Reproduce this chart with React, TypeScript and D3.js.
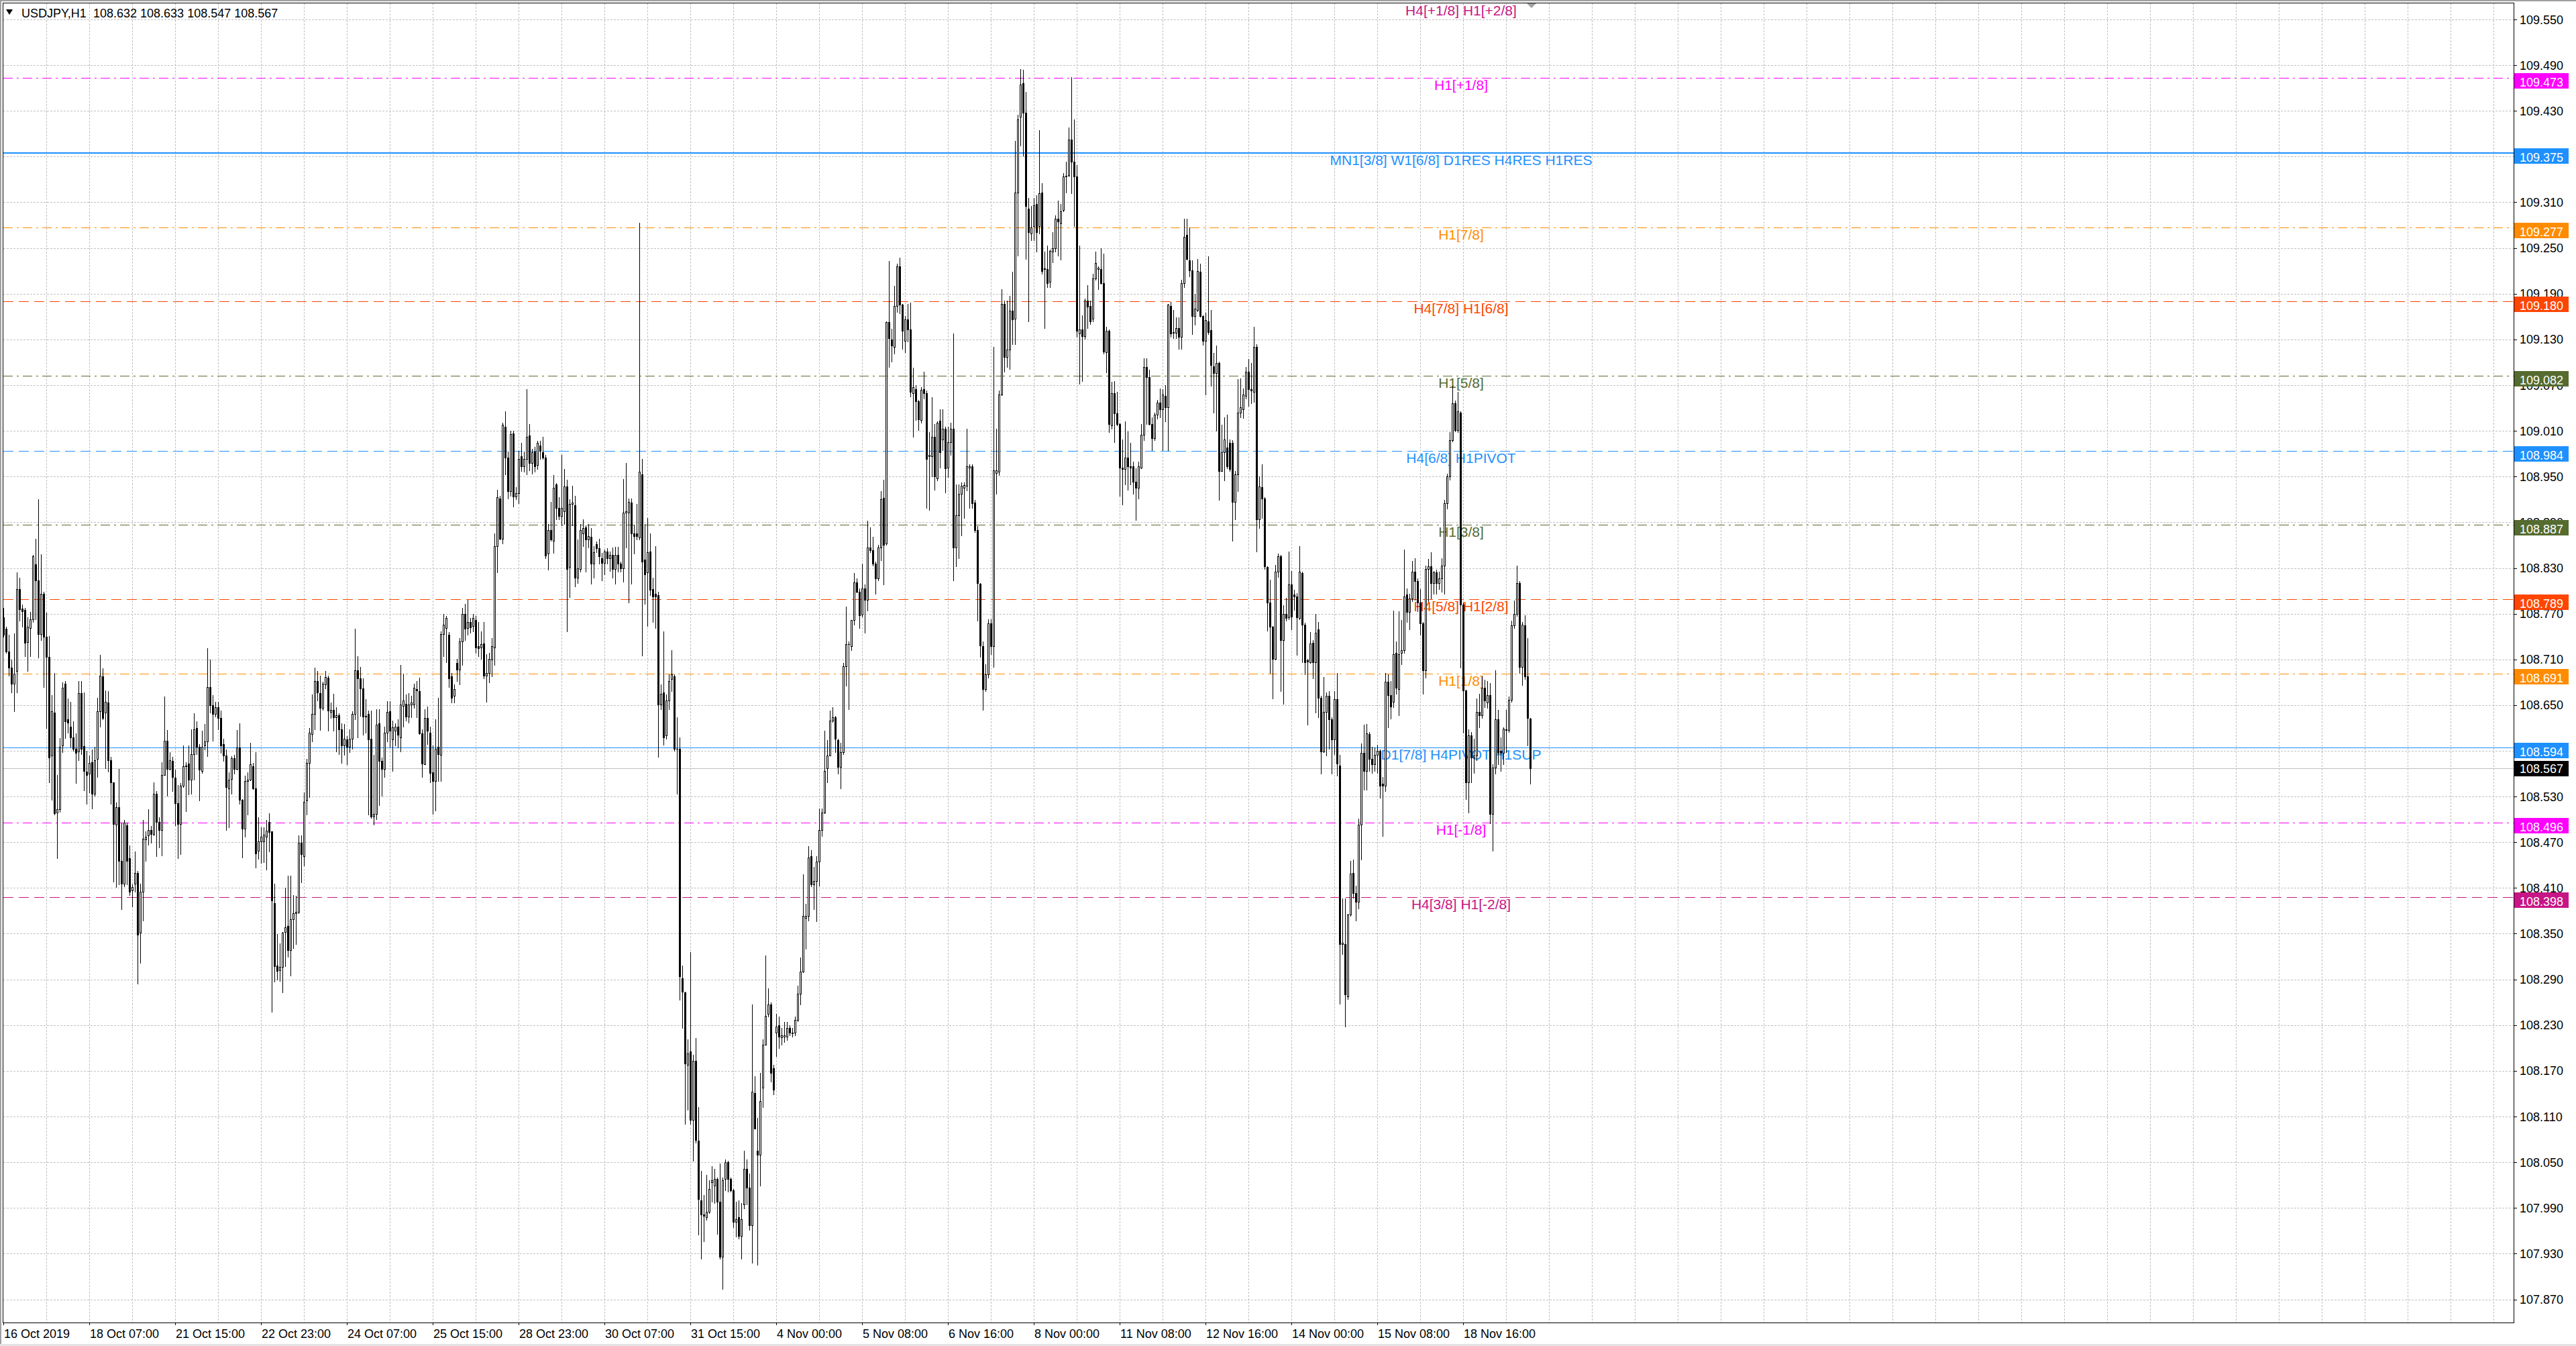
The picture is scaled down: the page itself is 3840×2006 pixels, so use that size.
import React from "react";
import * as d3 from "d3";

const W = 3840;
const H = 2006;
const PLOT = { left: 4, top: 4, right: 3747, bottom: 1971 };
const FONT = "'Liberation Sans', Arial, sans-serif";

const symbol = "USDJPY,H1";

// H1 bars: [open, high, low, close]
const candles: number[][] = [
  [108.765, 108.778, 108.740, 108.742], [108.750, 108.753, 108.719, 108.720], [108.720, 108.742, 108.689, 108.699],
  [108.699, 108.710, 108.667, 108.678], [108.678, 108.744, 108.642, 108.691], [108.695, 108.824, 108.667, 108.802],
  [108.802, 108.817, 108.761, 108.776], [108.777, 108.782, 108.753, 108.773], [108.775, 108.778, 108.714, 108.732],
  [108.733, 108.765, 108.695, 108.753], [108.751, 108.772, 108.714, 108.763], [108.763, 108.847, 108.759, 108.845],
  [108.835, 108.868, 108.763, 108.814], [108.814, 108.920, 108.712, 108.743], [108.743, 108.848, 108.735, 108.796],
  [108.796, 108.799, 108.674, 108.740], [108.740, 108.771, 108.620, 108.713], [108.713, 108.741, 108.549, 108.581],
  [108.584, 108.663, 108.526, 108.642], [108.640, 108.692, 108.506, 108.508], [108.509, 108.558, 108.449, 108.513],
  [108.513, 108.607, 108.510, 108.595], [108.597, 108.680, 108.588, 108.673], [108.678, 108.682, 108.607, 108.629],
  [108.631, 108.659, 108.614, 108.627], [108.622, 108.654, 108.595, 108.608], [108.608, 108.629, 108.590, 108.593],
  [108.593, 108.613, 108.548, 108.587], [108.589, 108.682, 108.578, 108.666], [108.666, 108.682, 108.586, 108.593],
  [108.596, 108.667, 108.538, 108.564], [108.563, 108.590, 108.520, 108.558], [108.560, 108.584, 108.535, 108.574],
  [108.575, 108.592, 108.514, 108.534], [108.534, 108.595, 108.531, 108.578], [108.579, 108.660, 108.556, 108.642],
  [108.642, 108.716, 108.622, 108.689], [108.688, 108.698, 108.631, 108.633], [108.640, 108.669, 108.567, 108.654],
  [108.653, 108.668, 108.563, 108.578], [108.578, 108.582, 108.520, 108.549], [108.549, 108.549, 108.418, 108.494],
  [108.493, 108.522, 108.411, 108.516], [108.516, 108.566, 108.415, 108.446], [108.446, 108.496, 108.382, 108.416],
  [108.416, 108.499, 108.412, 108.496], [108.492, 108.496, 108.415, 108.446], [108.449, 108.466, 108.401, 108.405],
  [108.407, 108.415, 108.386, 108.411], [108.416, 108.458, 108.405, 108.430], [108.430, 108.432, 108.284, 108.349],
  [108.351, 108.416, 108.312, 108.405], [108.405, 108.499, 108.367, 108.475], [108.474, 108.484, 108.446, 108.477],
  [108.479, 108.513, 108.467, 108.486], [108.486, 108.491, 108.469, 108.481], [108.481, 108.549, 108.479, 108.534],
  [108.534, 108.537, 108.452, 108.497], [108.497, 108.503, 108.463, 108.486], [108.486, 108.575, 108.453, 108.558],
  [108.558, 108.661, 108.558, 108.603], [108.603, 108.617, 108.531, 108.566], [108.566, 108.588, 108.565, 108.578],
  [108.577, 108.582, 108.537, 108.556], [108.555, 108.565, 108.492, 108.521], [108.521, 108.545, 108.449, 108.494],
  [108.494, 108.548, 108.454, 108.544], [108.544, 108.597, 108.542, 108.570], [108.570, 108.575, 108.511, 108.571],
  [108.573, 108.597, 108.533, 108.552], [108.552, 108.618, 108.534, 108.586], [108.586, 108.639, 108.552, 108.618],
  [108.620, 108.629, 108.586, 108.595], [108.595, 108.599, 108.525, 108.565], [108.564, 108.616, 108.561, 108.595],
  [108.597, 108.625, 108.592, 108.602], [108.602, 108.725, 108.583, 108.674], [108.674, 108.710, 108.640, 108.650],
  [108.650, 108.663, 108.603, 108.638], [108.638, 108.654, 108.635, 108.647], [108.647, 108.654, 108.618, 108.633],
  [108.633, 108.643, 108.587, 108.597], [108.599, 108.606, 108.577, 108.584], [108.584, 108.592, 108.486, 108.542],
  [108.541, 108.562, 108.490, 108.552], [108.553, 108.583, 108.534, 108.580], [108.580, 108.585, 108.560, 108.566],
  [108.566, 108.617, 108.565, 108.594], [108.594, 108.626, 108.520, 108.526], [108.526, 108.527, 108.450, 108.488],
  [108.488, 108.557, 108.477, 108.550], [108.550, 108.562, 108.506, 108.552], [108.552, 108.601, 108.551, 108.572],
  [108.570, 108.574, 108.540, 108.541], [108.541, 108.588, 108.437, 108.455], [108.459, 108.503, 108.448, 108.471],
  [108.471, 108.490, 108.443, 108.477], [108.471, 108.490, 108.444, 108.480], [108.477, 108.499, 108.434, 108.485],
  [108.497, 108.508, 108.458, 108.483], [108.484, 108.484, 108.247, 108.394], [108.390, 108.416, 108.287, 108.307],
  [108.308, 108.350, 108.290, 108.301], [108.302, 108.337, 108.288, 108.306], [108.306, 108.352, 108.273, 108.351],
  [108.352, 108.410, 108.307, 108.358], [108.360, 108.426, 108.320, 108.328], [108.328, 108.426, 108.295, 108.369],
  [108.369, 108.401, 108.331, 108.377], [108.377, 108.400, 108.336, 108.379], [108.379, 108.479, 108.377, 108.469],
  [108.469, 108.479, 108.417, 108.454], [108.452, 108.535, 108.439, 108.523], [108.525, 108.579, 108.506, 108.574],
  [108.574, 108.620, 108.529, 108.614], [108.612, 108.664, 108.602, 108.638], [108.638, 108.699, 108.618, 108.682],
  [108.682, 108.695, 108.656, 108.667], [108.666, 108.689, 108.617, 108.646], [108.646, 108.681, 108.644, 108.678],
  [108.677, 108.695, 108.672, 108.687], [108.686, 108.689, 108.616, 108.643], [108.641, 108.653, 108.633, 108.644],
  [108.644, 108.665, 108.616, 108.634], [108.634, 108.647, 108.589, 108.637], [108.637, 108.639, 108.586, 108.618],
  [108.618, 108.626, 108.574, 108.597], [108.597, 108.625, 108.585, 108.606], [108.605, 108.609, 108.572, 108.595],
  [108.595, 108.618, 108.588, 108.606], [108.606, 108.642, 108.593, 108.638], [108.638, 108.750, 108.631, 108.696],
  [108.696, 108.714, 108.608, 108.685], [108.685, 108.700, 108.636, 108.672], [108.672, 108.685, 108.611, 108.635],
  [108.636, 108.658, 108.614, 108.635], [108.638, 108.643, 108.506, 108.605], [108.606, 108.643, 108.502, 108.504],
  [108.504, 108.585, 108.493, 108.507], [108.507, 108.645, 108.500, 108.624], [108.626, 108.645, 108.519, 108.577],
  [108.577, 108.581, 108.531, 108.566], [108.566, 108.622, 108.556, 108.614], [108.614, 108.655, 108.602, 108.641],
  [108.642, 108.655, 108.595, 108.616], [108.605, 108.630, 108.564, 108.621], [108.616, 108.626, 108.597, 108.622],
  [108.622, 108.631, 108.594, 108.611], [108.608, 108.703, 108.589, 108.651], [108.649, 108.691, 108.622, 108.656],
  [108.652, 108.664, 108.630, 108.635], [108.635, 108.666, 108.627, 108.651], [108.651, 108.662, 108.634, 108.653],
  [108.651, 108.678, 108.646, 108.673], [108.671, 108.682, 108.634, 108.669], [108.668, 108.686, 108.612, 108.613],
  [108.613, 108.618, 108.556, 108.573], [108.572, 108.645, 108.572, 108.633], [108.633, 108.648, 108.599, 108.616],
  [108.614, 108.622, 108.549, 108.561], [108.562, 108.597, 108.507, 108.550], [108.550, 108.631, 108.512, 108.593],
  [108.595, 108.660, 108.550, 108.586], [108.585, 108.747, 108.550, 108.743], [108.743, 108.770, 108.714, 108.756],
  [108.751, 108.767, 108.706, 108.764], [108.742, 108.746, 108.674, 108.685], [108.688, 108.692, 108.653, 108.660],
  [108.662, 108.677, 108.653, 108.671], [108.705, 108.711, 108.682, 108.697], [108.697, 108.738, 108.677, 108.734],
  [108.734, 108.778, 108.703, 108.770], [108.770, 108.783, 108.735, 108.750], [108.751, 108.788, 108.742, 108.759],
  [108.759, 108.764, 108.745, 108.752], [108.754, 108.770, 108.747, 108.764], [108.762, 108.767, 108.719, 108.726],
  [108.727, 108.759, 108.714, 108.725], [108.726, 108.747, 108.711, 108.730], [108.731, 108.759, 108.685, 108.689],
  [108.689, 108.717, 108.654, 108.692], [108.692, 108.719, 108.680, 108.711], [108.710, 108.738, 108.688, 108.727],
  [108.726, 108.875, 108.703, 108.859], [108.859, 108.933, 108.824, 108.923], [108.921, 108.925, 108.867, 108.868],
  [108.868, 109.021, 108.862, 109.018], [109.015, 109.036, 108.953, 108.975], [108.975, 108.983, 108.921, 108.931],
  [108.931, 109.010, 108.925, 109.006], [109.007, 109.010, 108.911, 108.924], [108.924, 108.936, 108.920, 108.928],
  [108.928, 108.984, 108.915, 108.973], [108.977, 108.994, 108.957, 108.963], [108.963, 108.983, 108.956, 108.973],
  [108.973, 109.065, 108.953, 109.002], [109.004, 109.019, 108.958, 108.968], [108.968, 108.986, 108.954, 108.982],
  [108.983, 108.989, 108.956, 108.963], [108.965, 108.997, 108.960, 108.994], [108.991, 108.997, 108.973, 108.984],
  [108.982, 109.002, 108.973, 108.975], [108.975, 108.978, 108.843, 108.846], [108.849, 108.888, 108.828, 108.880],
  [108.880, 108.917, 108.866, 108.867], [108.866, 108.952, 108.850, 108.935], [108.940, 108.941, 108.894, 108.909],
  [108.909, 108.923, 108.894, 108.898], [108.898, 108.978, 108.886, 108.909], [108.904, 108.960, 108.888, 108.937],
  [108.937, 108.946, 108.747, 108.829], [108.831, 108.920, 108.792, 108.914], [108.914, 108.938, 108.886, 108.916],
  [108.912, 108.925, 108.806, 108.817], [108.817, 108.867, 108.810, 108.830], [108.829, 108.888, 108.825, 108.880],
  [108.875, 108.894, 108.859, 108.882], [108.883, 108.886, 108.825, 108.867], [108.867, 108.888, 108.857, 108.872],
  [108.871, 108.882, 108.809, 108.836], [108.836, 108.859, 108.817, 108.851], [108.861, 108.865, 108.851, 108.856],
  [108.856, 108.868, 108.836, 108.845], [108.843, 108.850, 108.814, 108.837], [108.837, 108.854, 108.822, 108.852],
  [108.852, 108.856, 108.836, 108.843], [108.843, 108.852, 108.826, 108.847], [108.847, 108.857, 108.817, 108.829],
  [108.829, 108.858, 108.809, 108.847], [108.847, 108.858, 108.825, 108.836], [108.836, 108.838, 108.825, 108.830],
  [108.830, 108.947, 108.812, 108.903], [108.903, 108.968, 108.857, 108.904], [108.903, 108.921, 108.785, 108.917],
  [108.916, 108.921, 108.809, 108.875], [108.875, 108.886, 108.849, 108.872], [108.875, 108.914, 108.867, 108.872],
  [108.870, 109.283, 108.867, 108.956], [108.953, 108.973, 108.715, 108.838], [108.841, 108.888, 108.783, 108.822],
  [108.824, 108.896, 108.754, 108.851], [108.852, 108.875, 108.794, 108.801], [108.802, 108.817, 108.759, 108.793],
  [108.796, 108.859, 108.751, 108.793], [108.794, 108.799, 108.582, 108.651], [108.651, 108.677, 108.645, 108.665],
  [108.667, 108.747, 108.598, 108.608], [108.610, 108.664, 108.606, 108.656], [108.656, 108.690, 108.645, 108.682],
  [108.684, 108.722, 108.668, 108.690], [108.688, 108.690, 108.590, 108.593], [108.593, 108.634, 108.534, 108.593],
  [108.593, 108.608, 108.263, 108.294], [108.291, 108.308, 108.226, 108.274], [108.273, 108.274, 108.100, 108.180],
  [108.178, 108.211, 108.119, 108.193], [108.195, 108.326, 108.100, 108.106], [108.106, 108.191, 108.052, 108.183],
  [108.183, 108.213, 108.076, 108.079], [108.078, 108.122, 107.955, 108.002], [108.000, 108.039, 107.923, 107.981],
  [107.981, 108.007, 107.946, 107.980], [107.978, 108.033, 107.974, 107.985], [107.985, 108.026, 107.983, 108.015],
  [108.024, 108.045, 107.998, 108.026], [108.019, 108.041, 107.996, 108.028], [108.028, 108.030, 107.956, 107.998],
  [107.998, 108.048, 107.923, 107.926], [107.926, 108.030, 107.884, 108.026], [108.028, 108.054, 108.013, 108.050],
  [108.050, 108.052, 108.011, 108.028], [108.028, 108.030, 108.011, 108.013], [108.013, 108.015, 107.965, 107.972],
  [107.972, 107.998, 107.952, 107.975], [107.978, 108.000, 107.950, 107.953], [107.953, 107.996, 107.923, 107.975],
  [107.995, 108.065, 107.989, 108.041], [108.041, 108.054, 107.995, 108.017], [108.017, 108.035, 107.961, 107.967],
  [107.967, 108.257, 107.918, 108.143], [108.141, 108.163, 108.094, 108.094], [108.065, 108.108, 107.915, 108.060],
  [108.060, 108.167, 108.019, 108.130], [108.148, 108.211, 108.122, 108.204], [108.204, 108.321, 108.204, 108.242],
  [108.245, 108.278, 108.241, 108.257], [108.257, 108.260, 108.156, 108.167], [108.173, 108.178, 108.139, 108.145],
  [108.220, 108.245, 108.189, 108.228], [108.230, 108.241, 108.200, 108.215], [108.214, 108.226, 108.204, 108.217],
  [108.215, 108.234, 108.208, 108.217], [108.215, 108.234, 108.210, 108.226], [108.226, 108.230, 108.217, 108.220],
  [108.219, 108.226, 108.215, 108.220], [108.220, 108.241, 108.217, 108.237], [108.237, 108.282, 108.235, 108.271],
  [108.271, 108.319, 108.257, 108.300], [108.300, 108.428, 108.299, 108.373], [108.371, 108.389, 108.330, 108.373],
  [108.373, 108.465, 108.367, 108.450], [108.452, 108.460, 108.412, 108.415], [108.415, 108.438, 108.382, 108.419],
  [108.419, 108.452, 108.366, 108.445], [108.445, 108.514, 108.413, 108.486], [108.486, 108.514, 108.478, 108.509],
  [108.509, 108.616, 108.508, 108.564], [108.567, 108.604, 108.549, 108.584], [108.584, 108.643, 108.584, 108.630],
  [108.630, 108.647, 108.628, 108.634], [108.634, 108.636, 108.588, 108.606], [108.604, 108.606, 108.560, 108.569],
  [108.569, 108.601, 108.541, 108.588], [108.588, 108.705, 108.586, 108.701], [108.701, 108.779, 108.675, 108.730],
  [108.730, 108.734, 108.645, 108.730], [108.727, 108.762, 108.722, 108.762], [108.762, 108.823, 108.756, 108.811],
  [108.811, 108.816, 108.798, 108.799], [108.799, 108.803, 108.751, 108.768], [108.769, 108.836, 108.766, 108.803],
  [108.803, 108.808, 108.745, 108.788], [108.788, 108.892, 108.774, 108.857], [108.857, 108.883, 108.851, 108.853],
  [108.853, 108.871, 108.833, 108.836], [108.836, 108.838, 108.796, 108.816], [108.816, 108.860, 108.814, 108.857],
  [108.857, 108.931, 108.840, 108.920], [108.922, 108.946, 108.808, 108.860], [108.862, 109.154, 108.860, 109.153],
  [109.153, 109.233, 109.094, 109.132], [109.130, 109.144, 109.101, 109.122], [109.120, 109.200, 109.111, 109.174],
  [109.174, 109.229, 109.166, 109.226], [109.226, 109.237, 109.164, 109.176], [109.176, 109.177, 109.118, 109.141],
  [109.128, 109.161, 109.113, 109.156], [109.156, 109.177, 109.127, 109.143], [109.143, 109.178, 109.055, 109.061],
  [109.059, 109.093, 109.002, 109.067], [109.065, 109.070, 109.024, 109.049], [109.049, 109.051, 109.011, 109.025],
  [109.024, 109.067, 109.021, 109.064], [109.065, 109.088, 109.052, 109.059], [109.059, 109.063, 108.909, 108.973],
  [108.977, 109.008, 108.906, 108.978], [108.977, 109.054, 108.950, 109.002], [109.002, 109.019, 108.933, 108.950],
  [108.948, 109.022, 108.945, 109.021], [109.023, 109.038, 108.962, 108.982], [108.999, 109.038, 108.985, 109.013],
  [109.013, 109.015, 108.929, 108.961], [108.962, 109.015, 108.949, 108.995], [108.995, 109.021, 108.978, 109.013],
  [109.013, 109.138, 108.814, 108.857], [108.857, 108.940, 108.832, 108.899], [108.899, 108.940, 108.843, 108.927],
  [108.927, 108.942, 108.873, 108.938], [108.935, 108.942, 108.896, 108.939], [108.938, 109.013, 108.932, 108.963],
  [108.962, 108.966, 108.909, 108.963], [108.963, 108.966, 108.909, 108.915], [108.916, 108.919, 108.877, 108.880],
  [108.880, 108.885, 108.761, 108.810], [108.809, 108.810, 108.713, 108.728], [108.727, 108.734, 108.644, 108.671],
  [108.671, 108.704, 108.668, 108.690], [108.690, 108.763, 108.686, 108.757], [108.757, 108.763, 108.717, 108.727],
  [108.727, 109.120, 108.700, 108.958], [108.955, 109.013, 108.927, 108.958], [108.956, 109.063, 108.952, 109.058],
  [109.058, 109.196, 109.057, 109.177], [109.177, 109.181, 109.088, 109.107], [109.107, 109.181, 109.094, 109.117],
  [109.117, 109.187, 109.091, 109.168], [109.168, 109.219, 109.124, 109.156], [109.157, 109.391, 109.124, 109.323],
  [109.323, 109.425, 109.240, 109.419], [109.422, 109.485, 109.384, 109.465], [109.466, 109.484, 109.371, 109.428],
  [109.428, 109.455, 109.236, 109.305], [109.302, 109.316, 109.154, 109.271], [109.269, 109.305, 109.260, 109.277],
  [109.279, 109.316, 109.260, 109.306], [109.308, 109.319, 109.245, 109.271], [109.279, 109.405, 109.269, 109.322],
  [109.323, 109.335, 109.216, 109.220], [109.223, 109.245, 109.145, 109.222], [109.222, 109.253, 109.199, 109.204],
  [109.206, 109.248, 109.199, 109.246], [109.245, 109.271, 109.231, 109.250], [109.250, 109.293, 109.245, 109.288],
  [109.288, 109.312, 109.240, 109.285], [109.282, 109.308, 109.235, 109.298], [109.300, 109.348, 109.298, 109.344],
  [109.344, 109.363, 109.323, 109.345], [109.346, 109.408, 109.344, 109.392], [109.392, 109.474, 109.322, 109.363],
  [109.363, 109.419, 109.279, 109.344], [109.344, 109.359, 109.133, 109.141], [109.138, 109.253, 109.072, 109.143],
  [109.143, 109.162, 109.075, 109.134], [109.134, 109.184, 109.131, 109.181], [109.181, 109.201, 109.145, 109.173],
  [109.174, 109.181, 109.150, 109.154], [109.157, 109.216, 109.154, 109.210], [109.210, 109.245, 109.208, 109.230],
  [109.222, 109.226, 109.196, 109.224], [109.222, 109.250, 109.203, 109.204], [109.204, 109.243, 109.111, 109.114],
  [109.113, 109.147, 109.087, 109.141], [109.141, 109.143, 109.008, 109.019], [109.017, 109.074, 109.013, 109.059],
  [109.059, 109.075, 108.995, 109.033], [109.033, 109.061, 109.017, 109.019], [109.019, 109.021, 108.925, 108.962],
  [108.962, 108.999, 108.913, 108.960], [108.960, 109.022, 108.940, 108.975], [108.975, 109.009, 108.933, 108.963],
  [108.963, 108.994, 108.940, 108.962], [108.963, 108.970, 108.927, 108.943], [108.943, 108.961, 108.893, 108.935],
  [108.935, 108.970, 108.921, 108.963], [108.962, 109.019, 108.961, 109.005], [109.005, 109.105, 108.998, 109.094],
  [109.094, 109.105, 109.019, 109.081], [109.081, 109.090, 109.018, 109.019], [109.019, 109.028, 108.985, 109.000],
  [109.000, 109.034, 108.998, 109.031], [109.031, 109.051, 109.026, 109.047], [109.047, 109.066, 109.028, 109.038],
  [109.038, 109.065, 108.985, 109.058], [109.056, 109.070, 109.022, 109.041], [109.041, 109.177, 108.985, 109.176],
  [109.174, 109.179, 109.133, 109.138], [109.140, 109.169, 109.132, 109.139], [109.139, 109.159, 109.132, 109.145],
  [109.145, 109.159, 109.118, 109.133], [109.133, 109.208, 109.118, 109.204], [109.204, 109.288, 109.199, 109.265],
  [109.267, 109.288, 109.235, 109.236], [109.234, 109.277, 109.213, 109.221], [109.221, 109.234, 109.137, 109.161],
  [109.161, 109.190, 109.149, 109.170], [109.169, 109.236, 109.167, 109.220], [109.219, 109.229, 109.160, 109.161],
  [109.161, 109.162, 109.123, 109.128], [109.128, 109.165, 109.058, 109.155], [109.154, 109.239, 109.137, 109.140],
  [109.142, 109.169, 109.069, 109.096], [109.095, 109.112, 109.034, 109.086], [109.086, 109.122, 109.010, 109.099],
  [109.099, 109.101, 108.919, 108.957], [108.957, 109.018, 108.957, 108.982], [108.982, 109.028, 108.945, 108.999],
  [108.988, 109.031, 108.961, 108.963], [108.994, 108.999, 108.957, 108.960], [108.994, 108.998, 108.866, 108.917],
  [108.917, 108.957, 108.894, 108.953], [108.953, 109.078, 108.931, 109.034], [109.034, 109.079, 109.028, 109.041],
  [109.038, 109.066, 109.027, 109.058], [109.056, 109.094, 109.052, 109.088], [109.088, 109.104, 109.043, 109.065],
  [109.065, 109.099, 109.046, 109.063], [109.061, 109.147, 109.048, 109.120], [109.120, 109.124, 108.852, 108.894],
  [108.894, 108.950, 108.882, 108.937], [108.936, 108.966, 108.896, 108.921], [108.921, 108.923, 108.829, 108.832],
  [108.831, 108.832, 108.748, 108.785], [108.785, 108.815, 108.692, 108.753], [108.753, 108.754, 108.659, 108.711],
  [108.711, 108.834, 108.710, 108.825], [108.825, 108.849, 108.818, 108.845], [108.845, 108.847, 108.668, 108.735],
  [108.735, 108.781, 108.652, 108.770], [108.770, 108.791, 108.761, 108.764], [108.765, 108.852, 108.763, 108.808],
  [108.808, 108.826, 108.749, 108.766], [108.795, 108.801, 108.775, 108.793], [108.793, 108.797, 108.716, 108.765],
  [108.764, 108.859, 108.763, 108.825], [108.823, 108.825, 108.706, 108.756], [108.756, 108.758, 108.690, 108.706],
  [108.709, 108.711, 108.624, 108.707], [108.706, 108.746, 108.705, 108.731], [108.732, 108.735, 108.685, 108.706],
  [108.706, 108.770, 108.640, 108.745], [108.749, 108.759, 108.634, 108.660], [108.660, 108.662, 108.560, 108.589],
  [108.589, 108.687, 108.588, 108.641], [108.641, 108.667, 108.584, 108.662], [108.662, 108.668, 108.593, 108.631],
  [108.631, 108.634, 108.560, 108.605], [108.605, 108.668, 108.586, 108.658], [108.658, 108.692, 108.557, 108.573],
  [108.571, 108.585, 108.258, 108.336], [108.336, 108.396, 108.323, 108.338], [108.336, 108.396, 108.228, 108.270],
  [108.268, 108.376, 108.264, 108.375], [108.375, 108.446, 108.373, 108.429], [108.430, 108.447, 108.397, 108.403],
  [108.403, 108.413, 108.367, 108.392], [108.392, 108.501, 108.383, 108.493], [108.493, 108.600, 108.447, 108.587],
  [108.587, 108.624, 108.539, 108.564], [108.564, 108.625, 108.539, 108.613], [108.612, 108.615, 108.564, 108.579],
  [108.579, 108.595, 108.561, 108.572], [108.572, 108.594, 108.564, 108.585], [108.585, 108.598, 108.561, 108.590],
  [108.590, 108.592, 108.528, 108.544], [108.547, 108.556, 108.478, 108.544], [108.544, 108.692, 108.537, 108.681],
  [108.681, 108.690, 108.621, 108.663], [108.663, 108.682, 108.632, 108.648], [108.654, 108.774, 108.647, 108.717],
  [108.719, 108.734, 108.665, 108.673], [108.671, 108.773, 108.637, 108.717], [108.719, 108.762, 108.704, 108.722],
  [108.722, 108.854, 108.719, 108.793], [108.795, 108.803, 108.759, 108.772], [108.772, 108.796, 108.749, 108.790],
  [108.790, 108.839, 108.786, 108.825], [108.825, 108.843, 108.788, 108.813], [108.813, 108.816, 108.773, 108.785],
  [108.785, 108.802, 108.742, 108.757], [108.757, 108.759, 108.665, 108.696], [108.696, 108.833, 108.686, 108.829],
  [108.829, 108.842, 108.786, 108.832], [108.832, 108.851, 108.790, 108.810], [108.810, 108.826, 108.796, 108.824],
  [108.824, 108.828, 108.796, 108.810], [108.810, 108.825, 108.802, 108.816], [108.816, 108.843, 108.799, 108.833],
  [108.833, 108.919, 108.796, 108.915], [108.915, 108.954, 108.908, 108.950], [108.950, 109.008, 108.946, 108.998],
  [108.998, 109.069, 108.996, 109.046], [109.046, 109.050, 109.009, 109.011], [109.011, 109.061, 109.008, 109.036],
  [109.034, 109.036, 108.699, 108.782], [108.782, 108.785, 108.614, 108.669], [108.669, 108.670, 108.527, 108.549],
  [108.549, 108.618, 108.509, 108.610], [108.610, 108.615, 108.549, 108.581], [108.581, 108.606, 108.561, 108.584],
  [108.584, 108.659, 108.578, 108.641], [108.641, 108.665, 108.621, 108.637], [108.637, 108.688, 108.633, 108.673],
  [108.673, 108.683, 108.647, 108.656], [108.653, 108.682, 108.646, 108.663], [108.663, 108.679, 108.495, 108.507],
  [108.507, 108.572, 108.459, 108.568], [108.568, 108.696, 108.560, 108.631], [108.631, 108.644, 108.572, 108.587],
  [108.590, 108.608, 108.564, 108.587], [108.587, 108.621, 108.572, 108.619], [108.618, 108.644, 108.588, 108.617],
  [108.617, 108.661, 108.615, 108.657], [108.657, 108.761, 108.654, 108.755], [108.755, 108.787, 108.751, 108.770],
  [108.770, 108.833, 108.767, 108.810], [108.810, 108.813, 108.692, 108.700], [108.700, 108.759, 108.676, 108.756],
  [108.755, 108.768, 108.684, 108.688], [108.688, 108.738, 108.597, 108.633], [108.632, 108.633, 108.547, 108.567],
];

// one label every 32 bars
const timeLabels = [
  "16 Oct 2019", "18 Oct 07:00", "21 Oct 15:00", "22 Oct 23:00", "24 Oct 07:00", "25 Oct 15:00",
  "28 Oct 23:00", "30 Oct 07:00", "31 Oct 15:00", "4 Nov 00:00", "5 Nov 08:00", "6 Nov 16:00",
  "8 Nov 00:00", "11 Nov 08:00", "12 Nov 16:00", "14 Nov 00:00", "15 Nov 08:00", "18 Nov 16:00",
];
const LABEL_STEP = 32;
const GRID_STEP = 16;
const GRID_COUNT = 58;

const PRICE_MIN = 107.87;
const PRICE_MAX = 109.55;
const PRICE_STEP = 0.06;

// Murrey levels drawn by the indicator
const levelPrices = [109.571, 109.473, 109.375, 109.277, 109.18, 109.082, 108.984, 108.887, 108.789, 108.691, 108.594, 108.496, 108.398];
const levelNames = [
  "H4[+1/8] H1[+2/8]", "H1[+1/8]", "MN1[3/8] W1[6/8] D1RES H4RES H1RES", "H1[7/8]", "H4[7/8] H1[6/8]",
  "H1[5/8]", "H4[6/8] H1PIVOT", "H1[3/8]", "H4[5/8] H1[2/8]", "H1[1/8]", "D1[7/8] H4PIVOT H1SUP",
  "H1[-1/8]", "H4[3/8] H1[-2/8]",
];
const levelKinds = ["top", "m1", "res", "o", "r", "g", "pv", "g", "r", "o", "sup", "m1", "m2"];

const KIND: Record<string, { color: string; dash?: string; width: number; line: boolean }> = {
  top: { color: "#c71585", width: 1, line: false },
  m1: { color: "#ff00ff", dash: "14,6,3,6", width: 1, line: true },
  m2: { color: "#c71585", dash: "15,8", width: 1, line: true },
  res: { color: "#1e90ff", width: 2, line: true },
  sup: { color: "#1e90ff", width: 1, line: true },
  pv: { color: "#1e90ff", dash: "15,8", width: 1, line: true },
  o: { color: "#ff8c00", dash: "14,6,3,6", width: 1, line: true },
  r: { color: "#ff4500", dash: "15,8", width: 1, line: true },
  g: { color: "#556b2f", dash: "14,6,3,6", width: 1, line: true },
};

const GRID = "#c0c0c0";
const LABEL_CX = 2178;
const AXIS_TEXT_X = 3756;

export default function App() {
  const x = d3.scaleLinear().domain([0, 1]).range([5, 9]);
  const y = d3.scaleLinear().domain([PRICE_MIN, PRICE_MAX]).range([1936.5, 29]);
  const priceTicks = d3.range(0, Math.round((PRICE_MAX - PRICE_MIN) / PRICE_STEP) + 1).map((k) => PRICE_MIN + k * PRICE_STEP);
  const gridBars = d3.range(1, GRID_COUNT + 1).map((k) => k * GRID_STEP);
  const last = candles[candles.length - 1];
  const bid = last[3];
  const yb = Math.round(y(bid));

  return (
    <>
      <style>{"body{margin:0}"}</style>
      <svg width={W} height={H} style={{ display: "block", background: "#fff" }} fontFamily={FONT}>
        <rect x={0} y={0} width={W} height={H} fill="#fff" />
        <rect x={0} y={0} width={W} height={2} fill="#a0a0a0" />
        <rect x={0} y={0} width={2} height={H} fill="#a0a0a0" />
        <rect x={0} y={H - 3} width={W} height={3} fill="#e3e3e3" />

        <g shapeRendering="crispEdges">
          {gridBars.map((b) => (
            <line key={"v" + b} x1={Math.round(x(b)) + 0.5} x2={Math.round(x(b)) + 0.5} y1={PLOT.top + 1} y2={PLOT.bottom}
              stroke={GRID} strokeDasharray="3,2" />
          ))}
          {priceTicks.map((p) => (
            <line key={"h" + p} x1={PLOT.left + 1} x2={PLOT.right} y1={Math.round(y(p)) + 0.5} y2={Math.round(y(p)) + 0.5}
              stroke={GRID} strokeDasharray="3,2" />
          ))}

          {levelPrices.map((p, i) => {
            const k = KIND[levelKinds[i]];
            if (!k.line) return null;
            const ly = Math.round(y(p)) + (k.width === 2 ? 0 : 0.5);
            return (
              <line key={"l" + i} x1={PLOT.left + 1} x2={PLOT.right} y1={ly} y2={ly} stroke={k.color}
                strokeWidth={k.width} strokeDasharray={k.dash} />
            );
          })}
          <line x1={PLOT.left + 1} x2={PLOT.right} y1={yb + 0.5} y2={yb + 0.5} stroke="#c0c0c0" />
        </g>

        {levelPrices.map((p, i) => (
          <text key={"t" + i} x={LABEL_CX} y={y(p) + 18} fontSize={21} textAnchor="middle" fill={KIND[levelKinds[i]].color}>
            {levelNames[i]}
          </text>
        ))}

        <g shapeRendering="crispEdges">
          {candles.map(([o, h, l, c], i) => {
            const cx = Math.round(x(i));
            const hy = Math.round(y(h));
            const ly = Math.round(y(l));
            const top = Math.round(y(Math.max(o, c)));
            const bh = Math.round(y(Math.min(o, c))) - top + 1;
            return (
              <g key={i}>
                <rect x={cx} y={hy} width={1} height={ly - hy + 1} fill="#000" />
                <rect x={cx - 1} y={top} width={3} height={bh} fill="#000" />
                {c > o && bh > 2 && <rect x={cx} y={top + 1} width={1} height={bh - 2} fill="#fff" />}
              </g>
            );
          })}
        </g>

        <polygon points="2276,5 2290,5 2283,12" fill="#a0a0a0" />

        <g shapeRendering="crispEdges">
          <rect x={PLOT.left + 0.5} y={PLOT.top + 0.5} width={PLOT.right - PLOT.left} height={PLOT.bottom - PLOT.top}
            fill="none" stroke="#000" />
          {priceTicks.map((p) => (
            <line key={"pt" + p} x1={PLOT.right} x2={PLOT.right + 5} y1={Math.round(y(p)) + 0.5} y2={Math.round(y(p)) + 0.5} stroke="#000" />
          ))}
          {timeLabels.map((t, k) => {
            const tx = Math.round(x(k * LABEL_STEP));
            return <rect key={"tt" + k} x={tx} y={PLOT.bottom} width={1} height={4} fill="#000" />;
          })}
        </g>

        {priceTicks.map((p) => (
          <text key={"pl" + p} x={AXIS_TEXT_X} y={y(p) + 6.5} fontSize={18} fill="#000">{p.toFixed(3)}</text>
        ))}
        {timeLabels.map((t, k) => (
          <text key={"tl" + k} x={Math.round(x(k * LABEL_STEP)) + 1} y={1994} fontSize={18} fill="#000">{t}</text>
        ))}

        <g shapeRendering="crispEdges">
          {levelPrices.map((p, i) => {
            const k = KIND[levelKinds[i]];
            if (!k.line) return null;
            const ly = y(p);
            return <rect key={"b" + i} x={PLOT.right + 1} y={Math.round(ly - 7)} width={81} height={23} fill={k.color} />;
          })}
          <rect x={PLOT.right + 1} y={yb - 11} width={81} height={23} fill="#000" />
        </g>
        {levelPrices.map((p, i) => {
          const k = KIND[levelKinds[i]];
          if (!k.line) return null;
          return (
            <text key={"bt" + i} x={AXIS_TEXT_X} y={y(p) + 13} fontSize={18} fill="#fff">{p.toFixed(3)}</text>
          );
        })}
        <text x={AXIS_TEXT_X} y={yb + 7} fontSize={18} fill="#fff">{bid.toFixed(3)}</text>

        <polygon points="9,14 19,14 14,22" fill="#000" />
        <text x={32} y={26} fontSize={18} fill="#000">{symbol}</text>
        <text x={139} y={26} fontSize={18} fill="#000">
          {last.map((v) => v.toFixed(3)).join(" ")}
        </text>
      </svg>
    </>
  );
}
